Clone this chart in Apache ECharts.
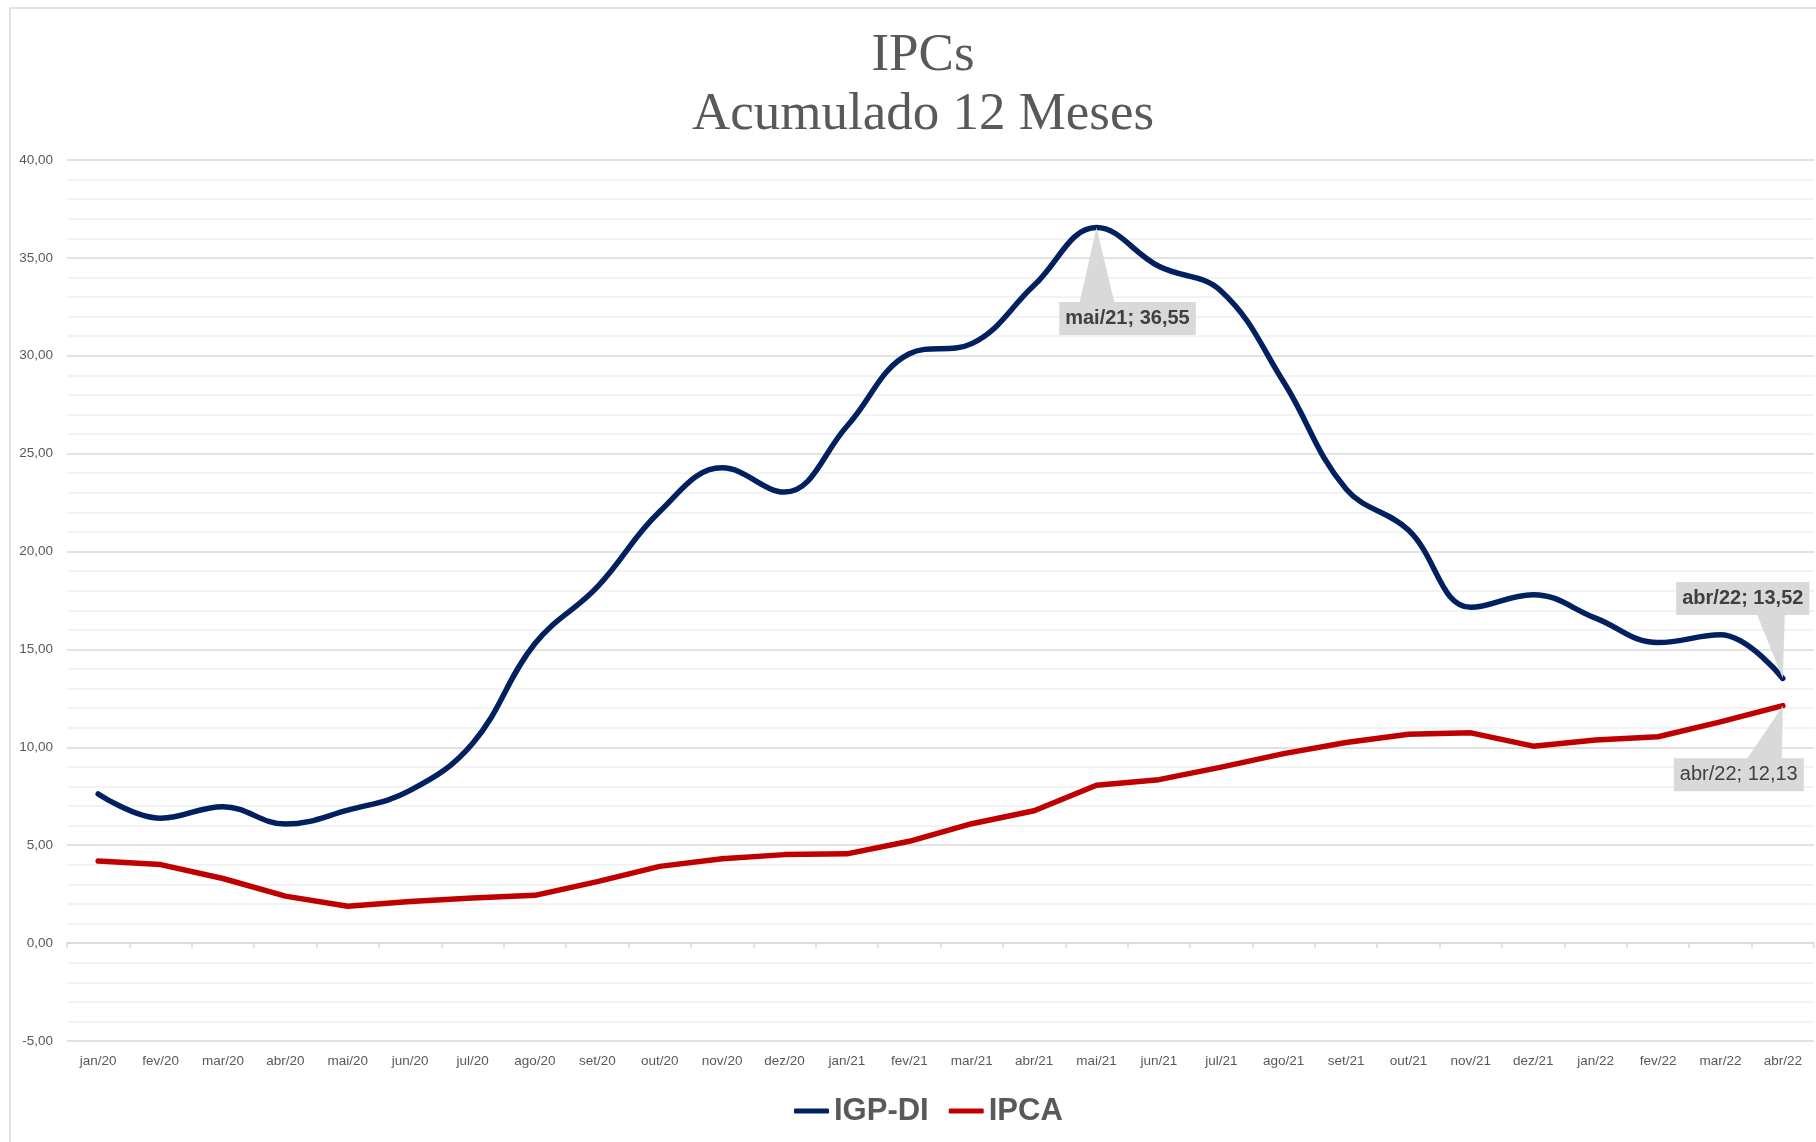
<!DOCTYPE html>
<html>
<head>
<meta charset="utf-8">
<title>IPCs - Acumulado 12 Meses</title>
<script src="https://cdn.jsdelivr.net/npm/echarts@6/dist/echarts.min.js"></script>
<style>
  html, body { margin: 0; padding: 0; background: #fff; }
  #chart { width: 1816px; height: 1142px; }
</style>
</head>
<body>
<div id="chart"></div>
<script>
// meses (jan/20 .. abr/22)
const months = [
  'jan/20', 'fev/20', 'mar/20', 'abr/20', 'mai/20', 'jun/20', 'jul/20', 'ago/20', 'set/20', 'out/20', 'nov/20', 'dez/20',
  'jan/21', 'fev/21', 'mar/21', 'abr/21', 'mai/21', 'jun/21', 'jul/21', 'ago/21', 'set/21', 'out/21', 'nov/21', 'dez/21',
  'jan/22', 'fev/22', 'mar/22', 'abr/22'
];

// IGP-DI acumulado 12 meses (%)
const igpdi = [
  7.62, 6.38, 6.97, 6.08, 6.79, 7.80, 10.20, 15.30, 18.20, 22.05, 24.28, 23.04,
  26.40, 30.10, 30.62, 33.60, 36.55, 34.57, 33.30, 28.66, 23.20, 21.10, 17.15, 17.80,
  16.60, 15.35, 15.75, 13.52
];

// IPCA acumulado 12 meses (%)
const ipca = [
  4.19, 4.01, 3.30, 2.40, 1.88, 2.13, 2.31, 2.44, 3.14, 3.92, 4.31, 4.52,
  4.56, 5.20, 6.10, 6.76, 8.06, 8.35, 8.99, 9.68, 10.25, 10.67, 10.74, 10.06,
  10.38, 10.54, 11.30, 12.13
];

const yTicks = { min: -5, max: 40, interval: 5 };

const GRAY_TEXT = '#595959';
const CALLOUT_BG = '#d9d9d9';

// rótulos de dados (estilo "balão" do Excel)
const callouts = [
  { series: 0, index: 16, dx: 31, dy: 91, bold: true, base: [-17, 18] },
  { series: 0, index: 27, dx: -40, dy: -80, bold: true, base: [-26, 2] },
  { series: 1, index: 27, dx: -44, dy: 69, bold: false, base: [-36, -1] }
];
const BOX_H = 33;

const fmt = v => v.toFixed(2).replace('.', ',');

function buildData(values, seriesIdx) {
  return values.map((v, i) => {
    const c = callouts.find(c => c.series === seriesIdx && c.index === i);
    if (!c) return v;
    return {
      value: v,
      label: {
        show: true,
        position: 'inside',
        align: 'center',
        verticalAlign: 'middle',
        formatter: p => `${p.name}; ${fmt(p.value)}`,
        fontFamily: 'Liberation Sans',
        fontSize: 20,
        lineHeight: 23,
        fontWeight: c.bold ? 'bold' : 'normal',
        color: '#404040',
        backgroundColor: CALLOUT_BG,
        padding: [5, 6]
      }
    };
  });
}

function calloutLayout(seriesIdx) {
  return params => {
    const c = callouts.find(c => c.series === seriesIdx && c.index === params.dataIndex);
    if (!c) return {};
    return { dx: c.dx, dy: c.dy, hideOverlap: false };
  };
}

const chart = echarts.init(document.getElementById('chart'));

const option = {
  animation: false,
  backgroundColor: '#fff',
  title: {
    text: 'IPCs\nAcumulado 12 Meses',
    left: 918,
    top: 22,
    textAlign: 'center',
    textStyle: {
      fontFamily: 'Liberation Serif',
      fontSize: 53,
      fontWeight: 'normal',
      lineHeight: 59,
      color: GRAY_TEXT
    }
  },
  legend: {
    data: ['IGP-DI', 'IPCA'],
    left: 789,
    top: 1089,
    icon: 'roundRect',
    itemWidth: 35,
    itemHeight: 5,
    itemGap: 20,
    textStyle: {
      fontFamily: 'Liberation Sans',
      fontSize: 31,
      fontWeight: 'bold',
      lineHeight: 34,
      color: GRAY_TEXT
    }
  },
  grid: {
    left: 67,
    right: 2,
    top: 160,
    bottom: 101,
    containLabel: false
  },
  xAxis: [
    {
      // eixo cruzando no zero: linha + marcas
      type: 'category',
      data: months,
      boundaryGap: true,
      axisLine: { onZero: true, lineStyle: { color: '#d9d9d9', width: 1.5 } },
      axisTick: { show: true, length: 5, lineStyle: { color: '#d9d9d9', width: 1.5 } },
      axisLabel: { show: false },
      splitLine: { show: false }
    },
    {
      // rótulos na base do gráfico
      type: 'category',
      data: months,
      boundaryGap: true,
      position: 'bottom',
      axisLine: { show: false, onZero: false },
      axisTick: { show: false },
      axisLabel: {
        show: true,
        interval: 0,
        margin: 13,
        fontFamily: 'Liberation Sans',
        fontSize: 13.5,
        color: GRAY_TEXT
      },
      splitLine: { show: false }
    }
  ],
  yAxis: {
    type: 'value',
    min: yTicks.min,
    max: yTicks.max,
    interval: yTicks.interval,
    axisLine: { show: false },
    axisTick: { show: false },
    axisLabel: {
      formatter: v => fmt(v),
      margin: 14,
      fontFamily: 'Liberation Sans',
      fontSize: 13.5,
      color: GRAY_TEXT
    },
    splitLine: { lineStyle: { color: '#d9d9d9', width: 1.5 } },
    minorTick: { show: false, splitNumber: 5 },
    minorSplitLine: { show: true, lineStyle: { color: '#f0f0f0', width: 1.5 } }
  },
  series: [
    {
      name: 'IGP-DI',
      type: 'line',
      xAxisIndex: 0,
      smooth: 0.4,
      symbol: 'circle',
      symbolSize: 1,
      showSymbol: true,
      itemStyle: { color: '#002060' },
      lineStyle: { width: 5.5, color: '#002060', cap: 'round', join: 'round' },
      labelLayout: calloutLayout(0),
      z: 3,
      data: buildData(igpdi, 0)
    },
    {
      name: 'IPCA',
      type: 'line',
      xAxisIndex: 0,
      smooth: false,
      symbol: 'circle',
      symbolSize: 1,
      showSymbol: true,
      itemStyle: { color: '#c00000' },
      lineStyle: { width: 5.5, color: '#c00000', cap: 'round', join: 'round' },
      labelLayout: calloutLayout(1),
      z: 2,
      data: buildData(ipca, 1)
    }
  ]
};

chart.setOption(option);

// ponteiros dos balões + moldura da área do gráfico
const seriesValues = [igpdi, ipca];
const graphics = [
  {
    type: 'rect',
    shape: { x: 10, y: 8, width: 1840, height: 1160 },
    style: { fill: 'none', stroke: '#d9d9d9', lineWidth: 1.5 },
    silent: true,
    z: 0
  }
];
callouts.forEach(c => {
  const [px, py] = chart.convertToPixel({ seriesIndex: c.series }, [c.index, seriesValues[c.series][c.index]]);
  const boxCy = py + c.dy;
  const edgeY = c.dy > 0 ? boxCy - BOX_H / 2 + 1 : boxCy + BOX_H / 2 - 1;
  graphics.push({
    type: 'polygon',
    shape: { points: [[px, py], [px + c.base[0], edgeY], [px + c.base[1], edgeY]] },
    style: { fill: CALLOUT_BG },
    silent: true,
    z: 10
  });
});
chart.setOption({ graphic: graphics });

window.addEventListener('resize', () => chart.resize());
</script>
</body>
</html>
